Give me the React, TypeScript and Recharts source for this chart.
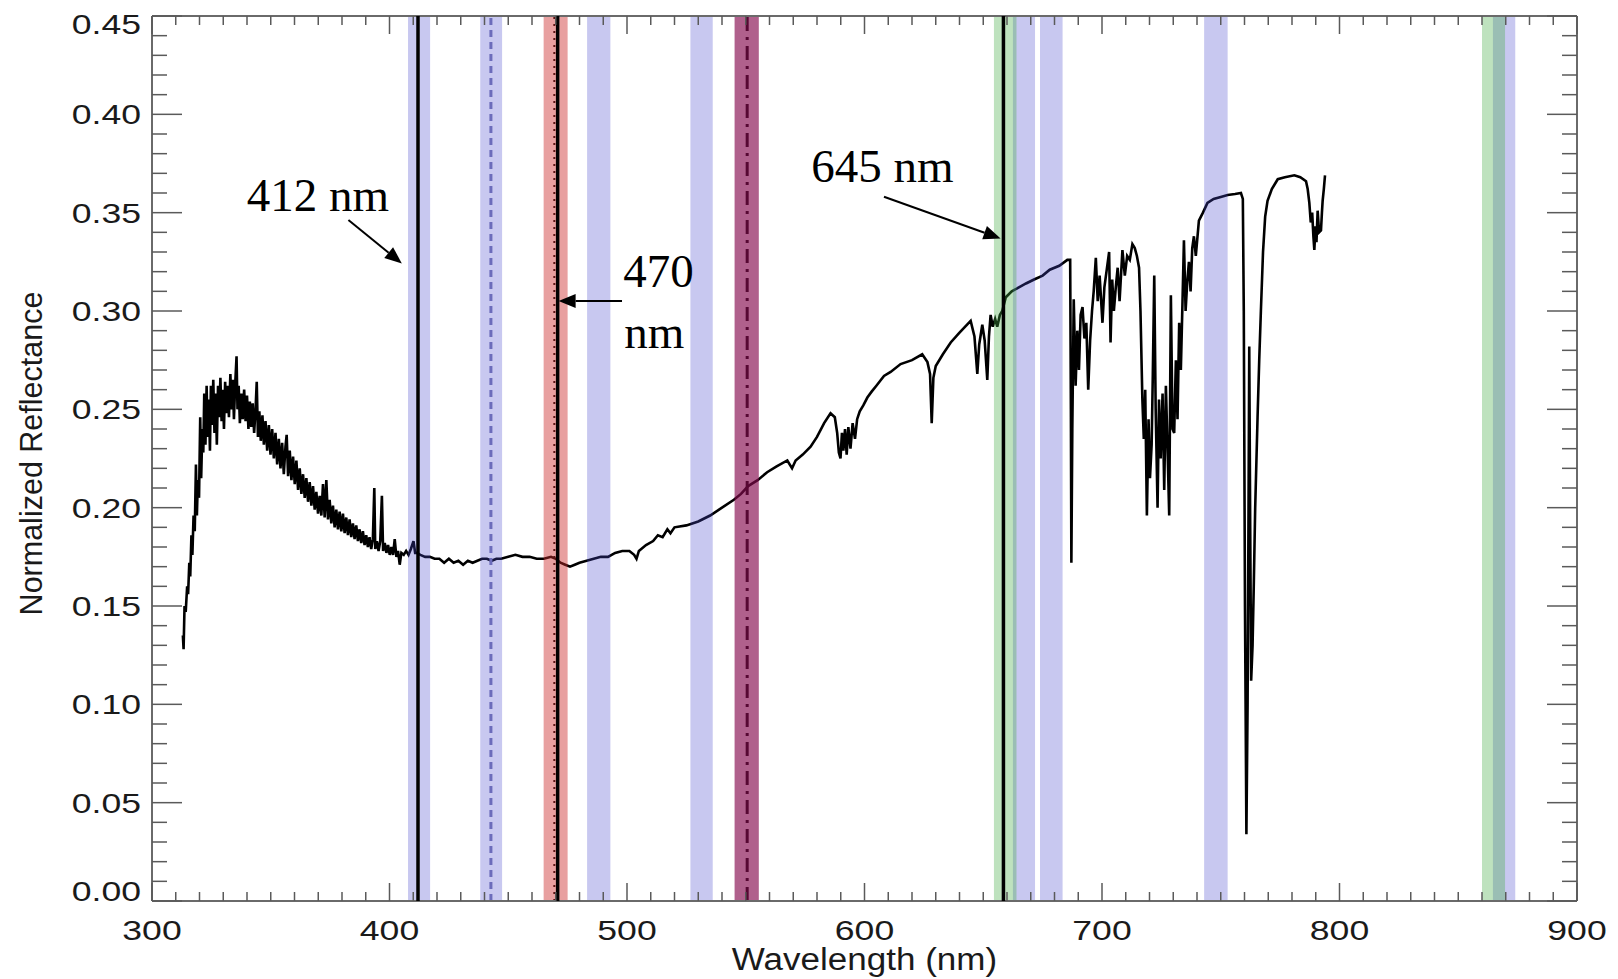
import { LineChart, Line, XAxis, YAxis, ReferenceArea, ReferenceLine, ReferenceDot } from "recharts";

// reflectance spectrum, [wavelength nm, normalized reflectance]
const uvRise: [number, number][] = [
  [313.0, 0.135], [313.3, 0.128], [313.7, 0.15], [314.2, 0.147], [314.8, 0.16], [315.2, 0.156],
  [315.7, 0.172], [316.1, 0.165], [316.6, 0.186], [317.0, 0.176], [317.5, 0.196], [318.0, 0.188],
  [318.5, 0.222], [318.9, 0.196], [319.3, 0.214], [319.8, 0.205], [320.3, 0.246], [320.7, 0.215],
  [321.2, 0.24], [321.6, 0.228], [322.0, 0.258], [322.5, 0.232], [323.0, 0.262], [323.4, 0.236],
  [323.9, 0.255], [324.4, 0.229], [324.8, 0.262], [325.3, 0.242], [325.8, 0.265], [326.3, 0.238],
  [326.8, 0.258], [327.3, 0.232], [327.8, 0.262], [328.3, 0.246], [328.8, 0.266], [329.3, 0.244],
  [329.8, 0.26], [330.3, 0.24], [330.8, 0.264], [331.3, 0.248], [331.8, 0.262], [332.4, 0.246],
  [333.0, 0.268], [333.5, 0.25], [334.0, 0.265], [334.5, 0.245], [335.0, 0.262], [335.6, 0.277],
  [336.0, 0.25], [336.5, 0.262], [337.0, 0.243], [337.6, 0.258], [338.2, 0.245], [338.8, 0.26],
  [339.4, 0.244], [340.0, 0.257], [340.6, 0.24], [341.2, 0.254], [341.8, 0.241], [342.4, 0.253],
  [343.0, 0.238], [343.6, 0.25], [344.1, 0.264], [344.6, 0.236], [345.2, 0.249], [345.8, 0.234],
];

const blueSlope: [number, number][] = [
  [346.5, 0.247], [347.1, 0.232], [347.8, 0.244], [348.5, 0.229], [349.2, 0.242], [349.9, 0.227],
  [350.6, 0.24], [351.3, 0.225], [352.0, 0.238], [352.7, 0.222], [353.4, 0.235], [354.1, 0.22],
  [354.8, 0.233], [355.5, 0.217], [356.2, 0.231], [356.7, 0.237], [357.3, 0.216], [358.0, 0.229],
  [358.7, 0.214], [359.4, 0.226], [360.1, 0.212], [360.8, 0.224], [361.5, 0.209], [362.2, 0.22],
  [362.9, 0.207], [363.6, 0.217], [364.3, 0.205], [365.0, 0.215], [365.7, 0.203], [366.4, 0.213],
  [367.1, 0.201], [367.8, 0.211], [368.5, 0.199], [369.2, 0.208], [369.9, 0.197], [370.6, 0.206],
  [371.3, 0.196], [372.0, 0.212], [372.7, 0.195], [373.4, 0.214], [374.1, 0.194], [374.8, 0.204],
  [375.5, 0.192], [376.2, 0.201], [376.9, 0.19], [377.6, 0.199], [378.3, 0.189], [379.0, 0.198],
  [379.7, 0.188], [380.4, 0.197], [381.1, 0.187], [381.8, 0.195], [382.5, 0.186], [383.2, 0.194],
  [383.9, 0.185], [384.6, 0.192], [385.3, 0.184], [386.0, 0.191], [386.7, 0.183], [387.4, 0.189],
  [388.1, 0.182], [388.8, 0.188], [389.5, 0.181], [390.2, 0.186], [390.9, 0.18], [391.6, 0.185],
  [392.3, 0.179], [393.0, 0.184], [393.6, 0.21], [394.0, 0.179], [394.7, 0.183], [395.4, 0.178],
  [396.1, 0.183], [396.8, 0.206], [397.3, 0.178], [398.0, 0.182], [398.7, 0.177], [399.4, 0.181],
  [400.1, 0.176], [400.8, 0.18], [401.5, 0.176], [402.2, 0.184], [402.9, 0.175], [403.6, 0.178],
  [404.3, 0.171], [405.0, 0.177], [406.0, 0.176], [407.0, 0.178], [408.0, 0.176], [409.0, 0.179],
  [410.1, 0.183], [410.8, 0.177],
];

const flatBlue: [number, number][] = [
  [411.5, 0.177], [413.0, 0.176], [415.0, 0.175], [417.0, 0.175], [419.0, 0.174], [421.0, 0.174],
  [423.0, 0.172], [425.0, 0.174], [427.0, 0.172], [429.0, 0.173], [431.0, 0.171], [433.0, 0.173],
  [435.0, 0.172], [437.0, 0.173], [439.0, 0.174], [441.0, 0.174], [443.0, 0.173], [445.0, 0.174],
  [447.0, 0.174], [450.0, 0.175], [453.0, 0.176], [456.0, 0.175], [459.0, 0.175], [462.0, 0.174],
  [465.0, 0.174], [468.0, 0.175], [470.0, 0.174], [472.0, 0.172], [474.0, 0.171], [476.0, 0.17],
  [478.0, 0.171], [480.0, 0.172], [483.0, 0.173], [486.0, 0.174], [489.0, 0.175], [492.0, 0.175],
  [495.0, 0.177], [498.0, 0.178], [501.0, 0.178], [503.0, 0.176], [504.0, 0.174], [505.0, 0.178],
];

const greenRise: [number, number][] = [
  [508.0, 0.181], [511.0, 0.183], [513.0, 0.186], [515.0, 0.185], [517.0, 0.189], [518.3, 0.187],
  [520.0, 0.19], [525.0, 0.191], [530.0, 0.193], [535.0, 0.196], [540.0, 0.2], [545.0, 0.204],
  [548.0, 0.207], [551.0, 0.211], [555.0, 0.214], [559.0, 0.218], [563.0, 0.221], [567.5, 0.224],
  [569.5, 0.22], [571.0, 0.224], [574.0, 0.227], [577.3, 0.231], [580.0, 0.236], [583.0, 0.243],
  [585.7, 0.248], [587.5, 0.246], [588.5, 0.238], [589.2, 0.228], [589.9, 0.225], [590.5, 0.238],
  [591.1, 0.229], [591.8, 0.24], [592.5, 0.227], [593.2, 0.241], [594.1, 0.23], [595.0, 0.243],
  [596.0, 0.235], [596.9, 0.245], [598.0, 0.249], [599.5, 0.252], [601.2, 0.256], [603.0, 0.259],
  [605.0, 0.262], [608.2, 0.267], [611.0, 0.269], [615.2, 0.273], [620.0, 0.275], [624.3, 0.278],
  [626.5, 0.274], [627.6, 0.268], [628.3, 0.243], [629.0, 0.266], [630.0, 0.272], [633.0, 0.278],
  [636.3, 0.284], [640.0, 0.289], [644.7, 0.295], [646.3, 0.287], [647.5, 0.268], [648.3, 0.283],
  [649.6, 0.293], [650.6, 0.285], [651.7, 0.265], [652.4, 0.287], [653.1, 0.298], [654.0, 0.292],
  [655.0, 0.296], [655.9, 0.292], [657.0, 0.298], [658.0, 0.3], [659.5, 0.307],
];

const redEdge: [number, number][] = [
  [662.0, 0.31], [665.0, 0.312], [668.0, 0.314], [671.4, 0.316], [675.0, 0.318], [678.0, 0.321],
  [682.0, 0.323], [685.4, 0.326], [686.6, 0.326], [686.9, 0.25], [687.1, 0.172], [687.5, 0.24],
  [688.1, 0.306], [688.9, 0.262], [689.6, 0.29], [690.3, 0.27], [691.0, 0.298], [691.8, 0.302],
  [692.6, 0.286], [693.4, 0.294], [694.2, 0.26], [695.0, 0.285], [695.8, 0.3], [696.5, 0.31],
  [697.4, 0.327], [698.2, 0.305], [699.0, 0.318], [700.2, 0.294], [701.0, 0.312], [702.0, 0.321],
  [703.0, 0.33], [703.6, 0.284], [704.3, 0.316], [705.0, 0.3], [705.8, 0.312], [706.6, 0.322],
  [707.4, 0.305], [708.6, 0.331], [709.6, 0.318], [710.6, 0.328], [711.7, 0.326], [712.8, 0.334],
  [713.8, 0.332], [714.7, 0.328], [715.6, 0.322], [716.2, 0.3],
];

const nirBands: [number, number][] = [
  [717.0, 0.255], [717.6, 0.235], [718.2, 0.26], [718.9, 0.196], [719.6, 0.245], [720.2, 0.215],
  [720.9, 0.232], [721.4, 0.268], [722.0, 0.318], [722.6, 0.25], [723.4, 0.2], [724.0, 0.255],
  [724.7, 0.225], [725.5, 0.258], [726.2, 0.209], [726.9, 0.262], [727.6, 0.23], [728.3, 0.196],
  [729.0, 0.308], [729.7, 0.24], [730.4, 0.238], [731.1, 0.275], [731.8, 0.245], [732.5, 0.294],
  [733.2, 0.27], [733.9, 0.305], [734.5, 0.336], [735.2, 0.3], [735.9, 0.315], [736.6, 0.325],
  [737.3, 0.31], [738.0, 0.332], [738.7, 0.338], [739.5, 0.328], [740.8, 0.346], [742.5, 0.35],
  [744.4, 0.355], [747.0, 0.357], [750.0, 0.358], [752.9, 0.359], [756.0, 0.3595], [758.5, 0.36],
  [759.3, 0.357], [759.7, 0.3], [760.2, 0.15], [760.8, 0.034], [761.3, 0.1], [761.7, 0.2],
  [762.0, 0.282], [762.4, 0.19], [762.8, 0.112], [763.4, 0.13], [763.9, 0.16], [764.5, 0.2],
  [765.5, 0.246], [766.2, 0.275], [766.9, 0.3], [767.8, 0.33], [768.7, 0.348], [769.7, 0.356],
  [771.5, 0.362], [774.0, 0.367], [777.0, 0.368], [781.0, 0.369], [783.5, 0.368], [785.9, 0.366],
  [786.6, 0.362], [787.3, 0.355], [787.9, 0.345], [788.5, 0.35], [789.0, 0.338], [789.4, 0.331],
  [789.9, 0.343], [790.3, 0.335], [790.8, 0.351], [791.4, 0.34], [792.2, 0.341], [792.6, 0.35],
  [792.9, 0.356], [793.4, 0.362], [793.9, 0.369],
];

const spectrum = [...uvRise, ...blueSlope, ...flatBlue, ...greenRise, ...redEdge, ...nirBands].map(
  ([nm, r]) => ({ nm, r })
);

// sensor bands, [from nm, to nm]
const blueBands: [number, number][] = [
  [407.8, 417.1], [438.2, 447.4], [483.2, 493.0], [526.7, 536.1],
  [662.5, 671.8], [673.9, 683.4], [743.0, 752.9], [864.6, 874.0],
];
const greenBands: [number, number][] = [[654.5, 664.0], [860.0, 869.7]];
const redBands: [number, number][] = [[464.9, 475.0]];
const purpleBands: [number, number][] = [[545.3, 555.5]];

const solidLines = [412.0, 470.8, 658.5];
const dashedLine = 442.7;
const dottedLine = 469.4;
const dashDotLine = 550.6;

const notes = [
  { text: "412 nm", x: 339.9, y: 0.351 },
  { text: "470", x: 498.4, y: 0.3123 },
  { text: "nm", x: 498.8, y: 0.2813 },
  { text: "645 nm", x: 577.6, y: 0.3657 },
];
const arrows = [
  { x1: 382.7, y1: 0.3463, x2: 405.2, y2: 0.3242 },
  { x1: 497.9, y1: 0.3051, x2: 471.2, y2: 0.3051 },
  { x1: 608.2, y1: 0.3581, x2: 657.3, y2: 0.3369 },
];

const xLabels = [300, 400, 500, 600, 700, 800, 900];
const yLabels = [0, 0.05, 0.1, 0.15, 0.2, 0.25, 0.3, 0.35, 0.4, 0.45];
const xTicks = Array.from({ length: 61 }, (_, i) => 300 + i * 10);
const yTicks = Array.from({ length: 46 }, (_, i) => i / 100);

const TICK = "#5a5a5a";
const FRAME = { stroke: "#6a6a6a", strokeWidth: 2 };
const SANS = "'Liberation Sans', Arial, Helvetica, sans-serif";
const SERIF = "'Liberation Serif', 'Times New Roman', serif";

const isMajorX = (v: number) => xLabels.includes(v);
const isMajorY = (v: number) => yLabels.some((l) => Math.abs(l - v) < 1e-9);

const BottomTick = ({ x, y, payload }: any) => {
  const major = isMajorX(payload.value);
  return (
    <g>
      <line x1={x} x2={x} y1={y} y2={y - (major ? 18 : 9)} stroke={TICK} strokeWidth={1.5} />
      {major && (
        <text transform={`translate(${x},${y + 39}) scale(1.27,1)`} textAnchor="middle"
          fontFamily={SANS} fontSize={28} fill="#1a1a1a">{payload.value}</text>
      )}
    </g>
  );
};

const TopTick = ({ x, y, payload }: any) => {
  const major = isMajorX(payload.value);
  return <line x1={x} x2={x} y1={y} y2={y + (major ? 18 : 9)} stroke={TICK} strokeWidth={1.5} />;
};

const LeftTick = ({ x, y, payload }: any) => {
  const v = payload.value;
  const major = isMajorY(v);
  const shift = v > 0.449 ? 18 : v < 0.001 ? 0 : 10;
  return (
    <g>
      <line x1={x} x2={x + (major ? 30 : 15)} y1={y} y2={y} stroke={TICK} strokeWidth={1.5} />
      {major && (
        <text transform={`translate(${x - 11},${y + shift}) scale(1.27,1)`} textAnchor="end"
          fontFamily={SANS} fontSize={28} fill="#1a1a1a">{v.toFixed(2)}</text>
      )}
    </g>
  );
};

const RightTick = ({ x, y, payload }: any) => {
  const major = isMajorY(payload.value);
  return <line x1={x} x2={x - (major ? 30 : 15)} y1={y} y2={y} stroke={TICK} strokeWidth={1.5} />;
};

const Arrow = ({ x1, y1, x2, y2 }: any) => {
  const len = Math.hypot(x2 - x1, y2 - y1) || 1;
  const ux = (x2 - x1) / len;
  const uy = (y2 - y1) / len;
  const bx = x2 - ux * 17;
  const by = y2 - uy * 17;
  const pts = `${x2},${y2} ${bx - uy * 7},${by + ux * 7} ${bx + uy * 7},${by - ux * 7}`;
  return (
    <g>
      <line x1={x1} y1={y1} x2={bx} y2={by} stroke="#000" strokeWidth={2} />
      <polygon points={pts} fill="#000" />
    </g>
  );
};

const ax = { xAxisId: "b", yAxisId: "l" };

export default function App() {
  return (
    <div style={{ position: "absolute", left: 0, top: 0, background: "#fff" }}>
      <LineChart width={1610} height={979} data={spectrum} margin={{ top: 0, right: 0, bottom: 0, left: 0 }}>
        <XAxis xAxisId="b" dataKey="nm" type="number" domain={[300, 900]} allowDataOverflow ticks={xTicks}
          interval={0} height={78} tickSize={0} tickMargin={0} tickLine={false} axisLine={FRAME} tick={BottomTick}
          label={(p: any) => (
            <text transform={`translate(${p.viewBox.x + p.viewBox.width / 2},${p.viewBox.y + 69}) scale(1.13,1)`}
              textAnchor="middle" fontFamily={SANS} fontSize={31} fill="#1a1a1a">Wavelength (nm)</text>
          )} />
        <XAxis xAxisId="t" orientation="top" dataKey="nm" type="number" domain={[300, 900]} allowDataOverflow
          ticks={xTicks} interval={0} height={16} tickSize={0} tickMargin={0} tickLine={false} axisLine={FRAME}
          tick={TopTick} />
        <YAxis yAxisId="l" type="number" domain={[0, 0.45]} allowDataOverflow ticks={yTicks} interval={0}
          width={152} tickSize={0} tickMargin={0} tickLine={false} axisLine={FRAME} tick={LeftTick}
          label={(p: any) => {
            const cx = p.viewBox.x + p.viewBox.width - 110;
            const cy = p.viewBox.y + p.viewBox.height / 2 - 5;
            return (
              <text transform={`translate(${cx},${cy}) rotate(-90)`} textAnchor="middle"
                fontFamily={SANS} fontSize={30.5} fill="#1a1a1a">Normalized Reflectance</text>
            );
          }} />
        <YAxis yAxisId="r" orientation="right" type="number" domain={[0, 0.45]} allowDataOverflow ticks={yTicks}
          interval={0} width={33} tickSize={0} tickMargin={0} tickLine={false} axisLine={FRAME} tick={RightTick} />

        <Line {...ax} type="linear" dataKey="r" stroke="#000" strokeWidth={2.6} dot={false} activeDot={false}
          isAnimationActive={false} zIndex={400} />

        <ReferenceLine {...ax} x={dashedLine} stroke="#7c7cb4" strokeWidth={3} strokeDasharray="7 5" zIndex={450} />
        <ReferenceLine {...ax} x={dottedLine} stroke="#000" strokeWidth={2} strokeDasharray="2 5" zIndex={450} />
        <ReferenceLine {...ax} x={dashDotLine} stroke="#000" strokeWidth={3} strokeDasharray="14 6 3 6" zIndex={450} />

        {blueBands.map(([a, b]) => (
          <ReferenceArea key={`b${a}`} {...ax} x1={a} x2={b} fill="rgb(72,72,205)" fillOpacity={0.3} stroke="none" zIndex={460} />
        ))}
        {greenBands.map(([a, b]) => (
          <ReferenceArea key={`g${a}`} {...ax} x1={a} x2={b} fill="rgb(69,172,69)" fillOpacity={0.35} stroke="none" zIndex={460} />
        ))}
        {redBands.map(([a, b]) => (
          <ReferenceArea key={`r${a}`} {...ax} x1={a} x2={b} fill="rgb(204,44,44)" fillOpacity={0.45} stroke="none" zIndex={460} />
        ))}
        {purpleBands.map(([a, b]) => (
          <ReferenceArea key={`p${a}`} {...ax} x1={a} x2={b} fill="rgb(134,10,78)" fillOpacity={0.65} stroke="none" zIndex={460} />
        ))}

        {solidLines.map((v) => (
          <ReferenceLine key={`s${v}`} {...ax} x={v} stroke="#000" strokeWidth={3.5} zIndex={600} />
        ))}

        {arrows.map((a) => (
          <ReferenceLine key={`a${a.x1}`} {...ax} segment={[{ x: a.x1, y: a.y1 }, { x: a.x2, y: a.y2 }]}
            shape={Arrow} zIndex={700} />
        ))}
        {notes.map((n) => (
          <ReferenceDot key={n.text} {...ax} x={n.x} y={n.y} r={1} zIndex={700}
            shape={(p: any) => (
              <text x={p.cx} y={p.cy} fontFamily={SERIF} fontSize={47} fill="#000">{n.text}</text>
            )} />
        ))}
      </LineChart>
    </div>
  );
}
